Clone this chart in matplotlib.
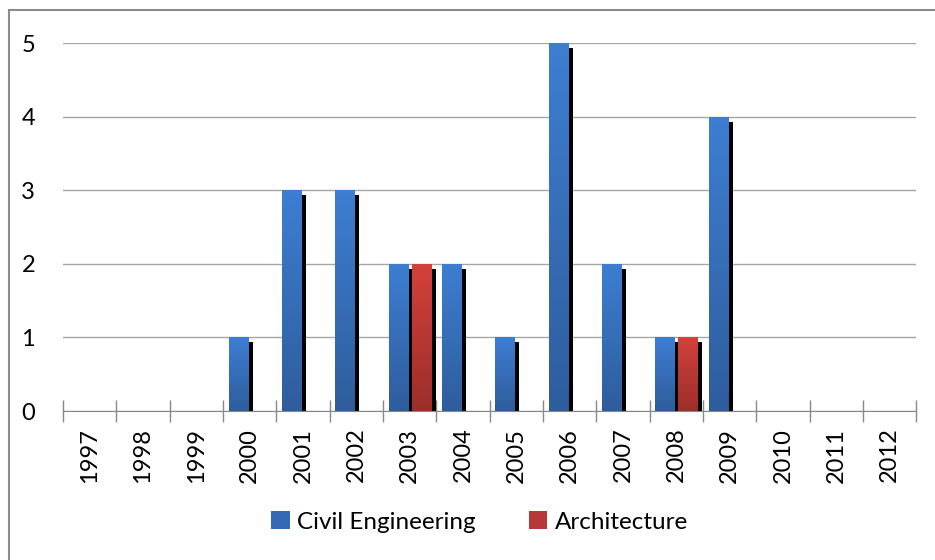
import numpy as np
import matplotlib
matplotlib.use("Agg")
import matplotlib.pyplot as plt
import matplotlib.transforms as mtransforms
from matplotlib.colors import LinearSegmentedColormap
from matplotlib.patches import Patch, Rectangle

plt.rcParams['font.family'] = ['Lato', 'DejaVu Sans']

years = ['1997', '1998', '1999', '2000', '2001', '2002', '2003', '2004',
         '2005', '2006', '2007', '2008', '2009', '2010', '2011', '2012']
civil = [0, 0, 0, 1, 3, 3, 2, 2, 1, 5, 2, 1, 4, 0, 0, 0]
arch = [0, 0, 0, 0, 0, 0, 2, 0, 0, 0, 0, 1, 0, 0, 0, 0]

blue_grad = LinearSegmentedColormap.from_list('b', ['#2e5d9c', '#3d7ed2'])
red_grad = LinearSegmentedColormap.from_list('r', ['#9c2e2a', '#d3413c'])

fig = plt.figure(figsize=(9.35, 5.6), dpi=100)
ax = fig.add_axes([0.0674, 0.266, 0.9126, 0.657])

x = np.arange(len(years))
w = 0.36
shadow = mtransforms.offset_copy(ax.transData, fig=fig, x=5, y=-5, units='dots')
grad = np.linspace(0, 1, 256).reshape(-1, 1)


def draw_series(vals, offset, cmap):
    for xi, v in zip(x, vals):
        if v == 0:
            continue
        left = xi + offset - w / 2
        ax.bar(left, v, w, align='edge', color='black', transform=shadow, zorder=2)
        bar = ax.bar(left, v, w, align='edge', color='none', zorder=3)[0]
        im = ax.imshow(grad, extent=[left, left + w, 0, v], origin='lower',
                       cmap=cmap, aspect='auto', zorder=3)
        im.set_clip_path(bar)


draw_series(civil, -0.215, blue_grad)
draw_series(arch, 0.215, red_grad)

ax.set_xlim(-0.5, len(years) - 0.5)
ax.set_ylim(0, 5)
ax.set_yticks(range(6))
ax.set_yticklabels([str(i) for i in range(6)], fontsize=17)
ax.yaxis.grid(True, color='#a6a6a6', linewidth=1)
ax.set_axisbelow(True)
ax.tick_params(axis='y', length=0, pad=20)

ax.set_xticks(x)
ax.set_xticklabels(years, rotation=90, fontsize=17)
ax.set_xticks(np.arange(len(years) + 1) - 0.5, minor=True)
ax.tick_params(axis='x', which='major', length=0, pad=12)
ax.tick_params(axis='x', which='minor', length=16, direction='inout', color='#888888', width=1)

for s in ['top', 'right', 'left']:
    ax.spines[s].set_visible(False)
ax.spines['bottom'].set_color('#888888')

handles = [Patch(facecolor='#3669b5', label='Civil Engineering'),
           Patch(facecolor='#b8383a', label='Architecture')]
fig.legend(handles=handles, loc='center', bbox_to_anchor=(0.513, 0.068), ncol=2,
           frameon=False, fontsize=17.5, handlelength=0.75, handleheight=0.75,
           handletextpad=0.3, columnspacing=2.2)

fig.patches.append(Rectangle((8.5 / 935, -0.1), 1.2, 1.1 - 10 / 560, transform=fig.transFigure,
                             fill=False, edgecolor='#8c8c8c', linewidth=1.5))

fig.savefig('out.png', dpi=100)
